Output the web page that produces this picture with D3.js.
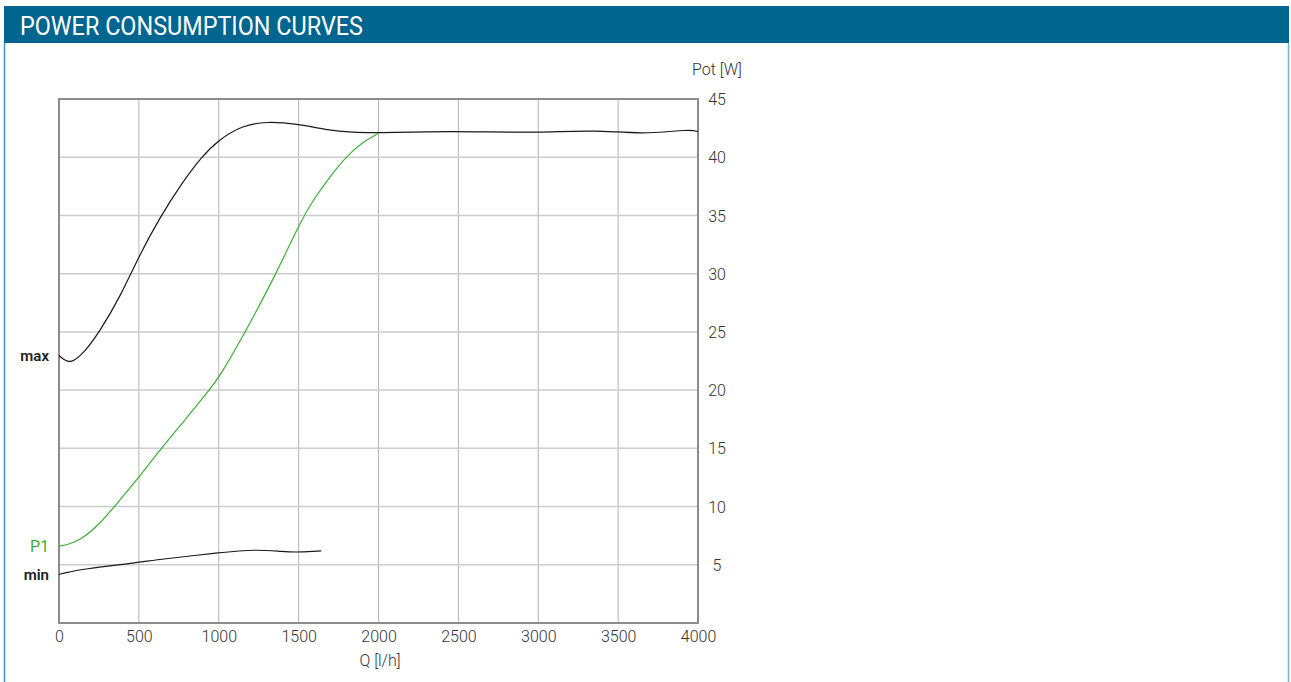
<!DOCTYPE html>
<html>
<head>
<meta charset="utf-8">
<script src="https://cdn.jsdelivr.net/npm/d3@7"></script>
<style>
  body { margin: 0; background: #fff; }
  text { font-family: Roboto, "DejaVu Sans", sans-serif; }
</style>
</head>
<body>
<script>
// values
const qTicks = [0, 500, 1000, 1500, 2000, 2500, 3000, 3500, 4000];
const pTicks = [5, 10, 15, 20, 25, 30, 35, 40, 45];

const qMax = [0, 40, 80, 150, 250, 390, 500, 630, 770, 890, 1000, 1150, 1300, 1490, 1670, 1840, 2000, 2300, 2600, 3000, 3350, 3650, 3950, 4000];
const pMax = [22.97, 22.5, 22.37, 23.1, 24.9, 28.2, 31.5, 34.8, 37.8, 40.0, 41.5, 42.75, 43.07, 42.87, 42.35, 42.12, 42.1, 42.2, 42.2, 42.1, 42.35, 41.96, 42.4, 42.2];

const qP1 = [0, 60, 130, 250, 381, 500, 631, 780, 933, 1006, 1163, 1360, 1516, 1590, 1700, 1798, 1900, 2000];
const pP1 = [6.6, 6.75, 7.1, 8.4, 10.57, 12.5, 14.86, 17.3, 19.87, 21.16, 24.9, 30.0, 34.6, 36.3, 38.4, 40.06, 41.3, 42.06];

const qMin = [0, 60, 130, 500, 631, 1006, 1235, 1400, 1506, 1642];
const pMin = [4.18, 4.35, 4.6, 5.2, 5.47, 6.04, 6.33, 6.12, 6.07, 6.2];

const width = 1291, height = 682;
const blue = '#00658f', green = '#3cae36';

const svg = d3.select('body').append('svg')
    .attr('width', width).attr('height', height);

// panel header + side borders
svg.append('rect').attr('x', 4).attr('y', 6).attr('width', 1285).attr('height', 37).attr('fill', blue);
svg.append('line').attr('x1', 4.5).attr('x2', 4.5).attr('y1', 43).attr('y2', height)
    .attr('stroke', '#4a8fb6').attr('stroke-width', 1.5);
svg.append('line').attr('x1', 1288.5).attr('x2', 1288.5).attr('y1', 43).attr('y2', height)
    .attr('stroke', '#7ab2cf').attr('stroke-width', 1.5);
svg.append('text').attr('x', 20).attr('y', 35)
    .attr('fill', '#fff').attr('font-size', 25)
    .attr('textLength', 343).attr('lengthAdjust', 'spacingAndGlyphs')
    .text('POWER CONSUMPTION CURVES');

// scales
const x = d3.scaleLinear().domain([0, 4000]).range([59, 698]);
const y = d3.scaleLinear().domain([0, 45]).range([623, 99]);

const g = svg.append('g');

// grid
g.selectAll('.vgrid').data(qTicks.slice(1, -1)).join('line')
    .attr('x1', d => x(d)).attr('x2', d => x(d))
    .attr('y1', y(0)).attr('y2', y(45))
    .attr('stroke', '#b3b3b3').attr('stroke-width', 1);
g.selectAll('.hgrid').data(pTicks.slice(0, -1)).join('line')
    .attr('x1', x(0)).attr('x2', x(4000))
    .attr('y1', d => y(d)).attr('y2', d => y(d))
    .attr('stroke', '#cccccc').attr('stroke-width', 1.5);

// frame
g.append('rect').attr('x', x(0)).attr('y', y(45))
    .attr('width', x(4000) - x(0)).attr('height', y(0) - y(45))
    .attr('fill', 'none').attr('stroke', '#8c8c8c').attr('stroke-width', 2);

// axes (labels only, no domain/tick marks)
const xAxis = g.append('g').attr('transform', `translate(0,${y(0)})`)
    .call(d3.axisBottom(x).tickValues(qTicks).tickSize(0).tickPadding(8).tickFormat(d3.format('d')));
const yAxis = g.append('g').attr('transform', `translate(${x(4000) + 19},0)`)
    .call(d3.axisRight(y).tickValues(pTicks).tickSize(0).tickPadding(0));
[xAxis, yAxis].forEach(a => {
    a.select('.domain').remove();
    a.selectAll('text').attr('font-family', 'Roboto').attr('font-size', 16)
        .attr('font-weight', 300).attr('fill', '#333');
});
yAxis.selectAll('text').attr('text-anchor', 'middle').attr('dy', '0.35em');

svg.append('text').attr('x', 380).attr('y', 666).attr('text-anchor', 'middle')
    .attr('font-size', 16).attr('font-weight', 300).attr('fill', '#333').text('Q [l/h]');
svg.append('text').attr('x', 717).attr('y', 75).attr('text-anchor', 'middle')
    .attr('font-size', 16).attr('font-weight', 300).attr('fill', '#333').text('Pot [W]');

// curves - B-spline through the read points to keep them smooth like the source
const line = d3.line().x(d => x(d[0])).y(d => y(d[1])).curve(d3.curveBasis);
const curves = [
    {q: qMax, p: pMax, c: '#1a1a1a'},
    {q: qP1, p: pP1, c: green},
    {q: qMin, p: pMin, c: '#1a1a1a'}
];
curves.forEach(s => {
    g.append('path').datum(d3.zip(s.q, s.p))
        .attr('d', line).attr('fill', 'none')
        .attr('stroke', s.c).attr('stroke-width', 1.2);
});

// curve names on the left
const names = [
    {t: 'max', v: pMax[0], c: '#222', w: 600},
    {t: 'P1', v: pP1[0], c: green, w: 400},
    {t: 'min', v: pMin[0], c: '#222', w: 600}
];
svg.selectAll('.name').data(names).join('text')
    .attr('x', 49).attr('y', d => y(d.v)).attr('dy', '0.35em')
    .attr('text-anchor', 'end')
    .attr('font-size', d => d.t === 'P1' ? 16 : 15)
    .attr('font-weight', d => d.w).attr('fill', d => d.c)
    .text(d => d.t);
</script>
</body>
</html>
